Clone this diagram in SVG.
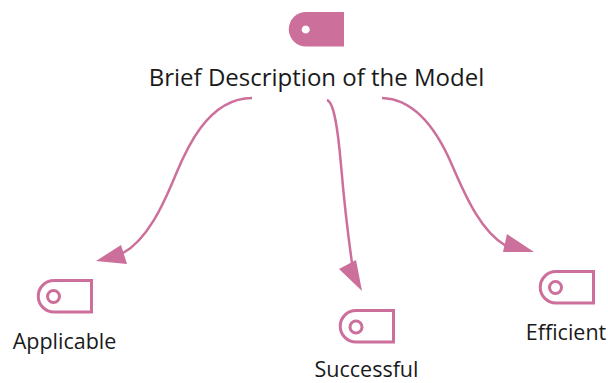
<svg xmlns="http://www.w3.org/2000/svg" width="608" height="383" viewBox="0 0 608 383">
<style>
.t{font-family:"Open Sans","Noto Sans",sans-serif;fill:#1a1a1a;text-anchor:middle}
.s{font-size:21.500px}
.o{fill:none;stroke:#cc6f9b;stroke-width:3}
.c{fill:none;stroke:#cc6f9b;stroke-width:2.500}
.h{fill:#cc6f9b;stroke:none}
</style>
<rect width="608" height="383" fill="#fff"/>
<g id="connectors">
<path class="c" d="M252 98C203 98 181 163 173.500 180C166 197 150 238 123 253"/>
<polygon class="h" points="96,261 121,245 127,264"/>
<path class="c" d="M327 100C334 102 338 130 341 165C344 200 348 235 352 263"/>
<polygon class="h" points="362,291 339,269 356,260"/>
<path class="c" d="M382 98C415 99 437 130 452 165C467 200 482 232 506 246"/>
<polygon class="h" points="534,252 503,252 507,234"/>
</g>
<g id="node-model">
<path class="h" fill-rule="evenodd" d="M344 12V46.500H306A17.250 17.250 0 0 1 306 12ZM305.700 25.500a4 4 0 1 0 .01 0Z"/>
<text class="t" x="316.500" y="86" font-size="24">Brief Description of the Model</text>
</g>
<g id="node-applicable">
<path class="o" d="M91.500 280.500V312H54A15.750 15.750 0 0 1 54 280.500Z"/>
<circle class="o" cx="53.500" cy="296.500" r="6"/>
<text class="t s" x="64.500" y="349">Applicable</text>
</g>
<g id="node-successful">
<path class="o" d="M393.500 310.500V342H356A15.750 15.750 0 0 1 356 310.500Z"/>
<circle class="o" cx="356" cy="327" r="6"/>
<text class="t s" x="366.500" y="376.500">Successful</text>
</g>
<g id="node-efficient">
<path class="o" d="M593.500 271.500V303H556A15.750 15.750 0 0 1 556 271.500Z"/>
<circle class="o" cx="555.500" cy="287.500" r="6"/>
<text class="t s" x="566" y="340">Efficient</text>
</g>
</svg>
